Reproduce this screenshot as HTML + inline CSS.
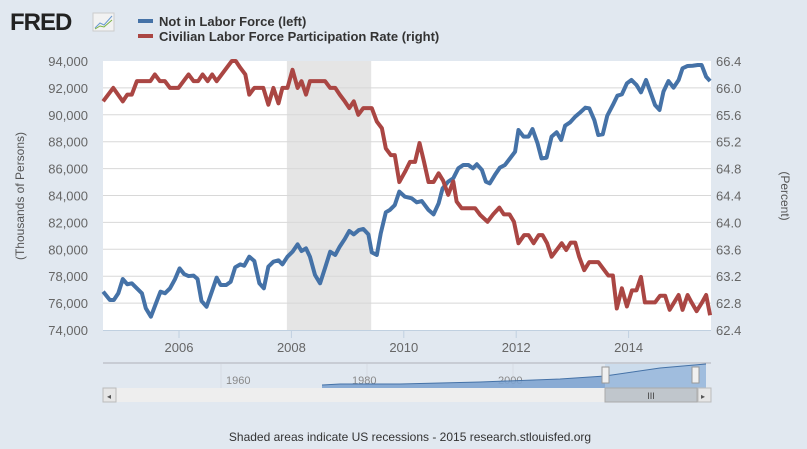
<!DOCTYPE html>
<html><head><meta charset="utf-8"><style>
body{margin:0;background:#e1e8f0;font-family:"Liberation Sans",sans-serif;}
svg{display:block}
</style></head><body>
<svg id="c" width="807" height="449">
<rect x="0" y="0" width="807" height="449" fill="#e1e8f0"/>
<g>
<text x="10" y="30" font-size="24" font-weight="bold" fill="#222" font-family="Liberation Sans, sans-serif" letter-spacing="-1">FRED</text>
<rect x="93" y="13" width="21" height="18" fill="#f2f2f2" stroke="#ccc"/>
<polyline points="95,28 100,23 104,25 112,16" fill="none" stroke="#6a9ad0" stroke-width="1"/>
<polyline points="95,29 100,26 104,27 112,20" fill="none" stroke="#7cb342" stroke-width="1"/>
</g>
<g>
<g><rect x="138" y="19" width="15" height="4" fill="#4572a7"/><text x="159" y="26" font-size="13" font-weight="bold" fill="#333">Not in Labor Force (left)</text></g>
<g><rect x="138" y="34" width="15" height="4" fill="#aa4643"/><text x="159" y="41" font-size="13" font-weight="bold" fill="#333">Civilian Labor Force Participation Rate (right)</text></g>
</g>
<rect x="103" y="61" width="608" height="269" fill="#fff"/>
<g id="rec"></g><g id="grid"></g><g id="axes"></g><g id="series"></g>
<text transform="translate(24,196) rotate(-90)" text-anchor="middle" font-size="12" fill="#555">(Thousands of Persons)</text>
<text transform="translate(781,196) rotate(90)" text-anchor="middle" font-size="12" fill="#555">(Percent)</text>
<g>
<line x1="103" y1="363" x2="711" y2="363" stroke="#b0b0b8"/>
<line x1="221" y1="364" x2="221" y2="388" stroke="#d8dde5"/>
<line x1="367" y1="364" x2="367" y2="388" stroke="#d8dde5"/>
<line x1="513" y1="364" x2="513" y2="388" stroke="#d8dde5"/>
<text x="226" y="384" font-size="11" fill="#888">1960</text>
<text x="352" y="384" font-size="11" fill="#888">1980</text>
<text x="498" y="384" font-size="11" fill="#888">2000</text>
<polygon points="322,388 322,385 340,384 360,384 400,384 440,383 480,382 520,381 560,379 590,377 605,376 630,372 660,368 690,365 706,364 706,388" fill="#7fa4d0" opacity="0.9"/>
<rect x="605" y="364" width="101" height="24" fill="#b8cfe8" opacity="0.5"/>
<polyline points="322,385 340,384 400,384 480,382 560,379 605,376 660,368 706,364" fill="none" stroke="#4572a7"/>
<rect x="602" y="367" width="7" height="16" fill="#f0f0f0" stroke="#999"/>
<rect x="692" y="367" width="7" height="16" fill="#f0f0f0" stroke="#999"/>
<rect x="103" y="388" width="608" height="14" fill="#eeeeee"/>
<rect x="103" y="388" width="13" height="14" fill="#e6e6e6" stroke="#bbb"/>
<text x="107" y="399" font-size="8" fill="#555">◂</text>
<rect x="605" y="388" width="92" height="14" fill="#c0c6cc" stroke="#aaa"/>
<text x="651" y="399" font-size="9" fill="#444" text-anchor="middle">III</text>
<rect x="698" y="388" width="13" height="14" fill="#e6e6e6" stroke="#bbb"/>
<text x="701" y="399" font-size="8" fill="#555">▸</text>
</g>
<text x="410" y="441" text-anchor="middle" font-size="12" fill="#333">Shaded areas indicate US recessions - 2015 research.stlouisfed.org</text>
</svg>
<script>
const xTicks=[2006,2008,2010,2012,2014];
const leftTicks=[74000,76000,78000,80000,82000,84000,86000,88000,90000,92000,94000];
const rightTicks=[62.4,62.8,63.2,63.6,64.0,64.4,64.8,65.2,65.6,66.0,66.4];
const recession=[2007.92,2009.42];
const nilfDates=[2004.65,2004.77,2004.84,2004.92,2005.00,2005.08,2005.16,2005.25,2005.34,2005.41,2005.50,2005.59,2005.67,2005.75,2005.84,2005.93,2006.01,2006.09,2006.17,2006.26,2006.33,2006.40,2006.49,2006.58,2006.67,2006.74,2006.84,2006.92,2007.00,2007.09,2007.16,2007.25,2007.34,2007.43,2007.51,2007.59,2007.68,2007.77,2007.84,2007.93,2008.02,2008.11,2008.18,2008.26,2008.33,2008.42,2008.51,2008.60,2008.69,2008.78,2008.86,2008.95,2009.03,2009.11,2009.20,2009.28,2009.37,2009.43,2009.52,2009.59,2009.68,2009.75,2009.84,2009.92,2010.02,2010.14,2010.23,2010.32,2010.44,2010.53,2010.62,2010.69,2010.79,2010.88,2010.97,2011.06,2011.15,2011.23,2011.30,2011.39,2011.46,2011.53,2011.62,2011.71,2011.80,2011.89,2011.98,2012.04,2012.13,2012.22,2012.29,2012.38,2012.45,2012.54,2012.63,2012.72,2012.80,2012.87,2012.96,2013.05,2013.14,2013.23,2013.30,2013.39,2013.46,2013.54,2013.62,2013.72,2013.80,2013.88,2013.97,2014.05,2014.14,2014.22,2014.31,2014.39,2014.47,2014.55,2014.62,2014.71,2014.80,2014.89,2014.96,2015.05,2015.14,2015.23,2015.30,2015.38,2015.45];
const nilfValues=[76850,76230,76230,76730,77790,77400,77470,77100,76730,75610,74990,75980,76850,76730,77100,77790,78580,78160,78010,78040,77790,76160,75730,76800,77890,77350,77350,77590,78660,78880,78780,79450,79130,77470,77100,78710,79080,79180,78880,79450,79820,80370,79870,80070,79450,78090,77470,78630,79820,79580,80200,80770,81360,81110,81430,81510,81110,79770,79580,81190,82750,82920,83290,84290,83910,83790,83490,83590,82920,82600,83420,84530,85030,85280,86020,86270,86270,86020,86320,85900,85030,84900,85520,86070,86270,86760,87260,88870,88380,88380,88940,87880,86760,86810,88380,88700,88130,89190,89440,89860,90180,90530,90480,89610,88500,88550,89930,90730,91420,91520,92340,92590,92220,91670,92590,91670,90730,90360,91720,92510,92020,92590,93460,93630,93650,93700,93700,92830,92510];
const lfprDates=[2004.65,2004.83,2005.00,2005.08,2005.16,2005.25,2005.49,2005.57,2005.66,2005.75,2005.84,2005.99,2006.08,2006.17,2006.26,2006.34,2006.42,2006.51,2006.59,2006.67,2006.76,2006.85,2006.94,2007.01,2007.09,2007.18,2007.25,2007.34,2007.50,2007.59,2007.68,2007.77,2007.84,2007.93,2008.02,2008.11,2008.18,2008.26,2008.33,2008.60,2008.69,2008.78,2008.86,2008.95,2009.03,2009.11,2009.19,2009.28,2009.43,2009.52,2009.61,2009.68,2009.77,2009.84,2009.92,2010.02,2010.11,2010.20,2010.28,2010.36,2010.44,2010.53,2010.62,2010.70,2010.79,2010.88,2010.94,2011.03,2011.27,2011.36,2011.49,2011.59,2011.70,2011.78,2011.88,2011.96,2012.04,2012.14,2012.22,2012.31,2012.40,2012.47,2012.55,2012.63,2012.72,2012.81,2012.89,2012.97,2013.05,2013.12,2013.21,2013.30,2013.46,2013.55,2013.64,2013.72,2013.79,2013.88,2013.97,2014.06,2014.14,2014.22,2014.29,2014.47,2014.56,2014.65,2014.73,2014.81,2014.89,2014.96,2015.05,2015.12,2015.21,2015.30,2015.38,2015.45];
const lfprValues=[65.8,66.0,65.8,65.9,65.9,66.1,66.1,66.2,66.1,66.1,66.0,66.0,66.1,66.2,66.1,66.1,66.2,66.1,66.2,66.1,66.2,66.3,66.4,66.4,66.3,66.2,65.9,66.0,66.0,65.75,66.0,65.77,66.0,66.0,66.27,66.0,66.1,65.9,66.1,66.1,66.0,66.0,65.9,65.8,65.7,65.8,65.6,65.7,65.7,65.5,65.4,65.1,65.0,65.0,64.6,64.75,64.9,64.9,65.18,64.9,64.6,64.6,64.73,64.62,64.41,64.61,64.31,64.21,64.21,64.11,64.01,64.12,64.22,64.12,64.12,64.01,63.69,63.81,63.81,63.69,63.81,63.81,63.69,63.49,63.59,63.69,63.59,63.7,63.7,63.49,63.29,63.41,63.41,63.31,63.21,63.21,62.72,63.02,62.75,62.99,62.99,63.19,62.81,62.81,62.91,62.91,62.7,62.81,62.92,62.7,62.92,62.81,62.68,62.8,62.92,62.62];

const NS='http://www.w3.org/2000/svg';
const L=103,R=711,T=61,B=330;
const x=d=>179+(d-2006)*56.2;
const yL=v=>B-(v-74000)/20000*(B-T);
const yR=v=>B-(v-62.4)/4*(B-T);
function mk(tag,attrs,parent){const e=document.createElementNS(NS,tag);for(const k in attrs)e.setAttribute(k,attrs[k]);document.getElementById(parent).appendChild(e);return e;}
const rec=mk('rect',{x:x(recession[0]),y:T,width:x(recession[1])-x(recession[0]),height:B-T,fill:'#e5e5e5'},'rec');


leftTicks.forEach((v,i)=>{
  if(v>74000&&v<94000){const g=mk('line',{x1:L,x2:R,y1:yL(v),y2:yL(v),stroke:'#d8d8d8','stroke-width':1},'grid');
  
  }
  const t=mk('text',{x:88,y:yL(v)+5,'text-anchor':'end','font-size':13,fill:'#666'},'axes');
  t.textContent=v.toLocaleString('en-US');
  
  
});
rightTicks.forEach(v=>{
  const t=mk('text',{x:716,y:yR(v)+5,'font-size':13,fill:'#666'},'axes');
  t.textContent=v.toFixed(1);
  
  
});
mk('line',{x1:L,x2:R,y1:B+0.5,y2:B+0.5,stroke:'#c0d0e0'},'axes');
xTicks.forEach(d=>{
  mk('line',{x1:x(d),x2:x(d),y1:B,y2:B+8,stroke:'#c0d0e0'},'axes');
  const t=mk('text',{x:x(d),y:B+22,'text-anchor':'middle','font-size':13,fill:'#666'},'axes');
  t.textContent=d;
  
  
});
const cl=v=>Math.max(L,Math.min(R,v));
const p1=mk('polyline',{points:nilfDates.map((d,i)=>cl(x(d))+','+yL(nilfValues[i])).join(' '),fill:'none',stroke:'#4572a7','stroke-width':4,'stroke-linejoin':'round'},'series');


const p2=mk('polyline',{points:lfprDates.map((d,i)=>cl(x(d))+','+yR(lfprValues[i])).join(' '),fill:'none',stroke:'#aa4643','stroke-width':4,'stroke-linejoin':'round'},'series');


</script>
</body></html>
